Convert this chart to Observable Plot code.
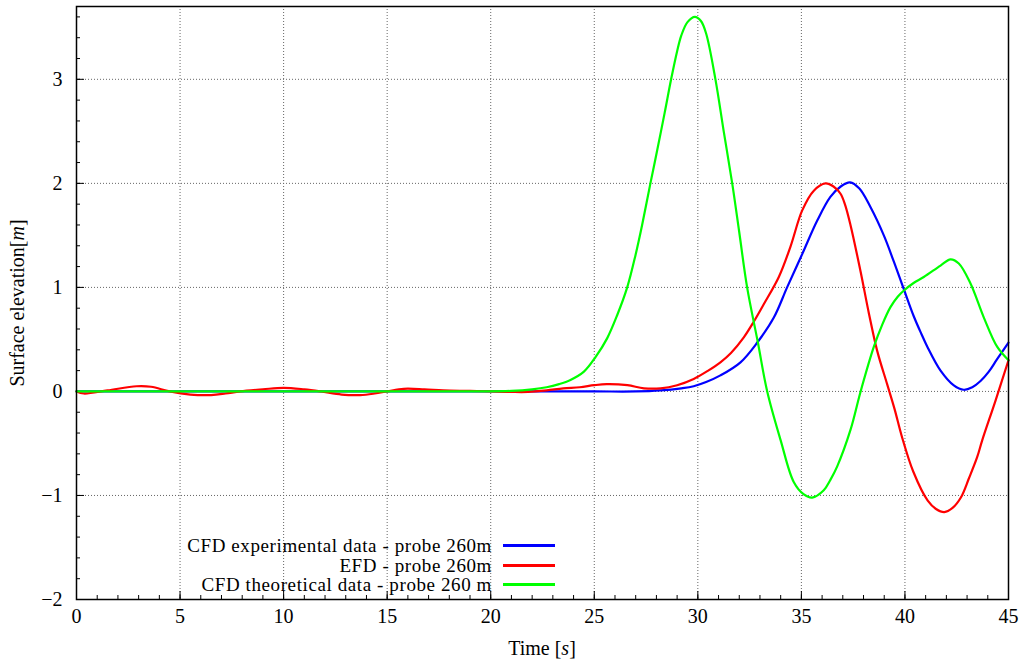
<!DOCTYPE html>
<html><head><meta charset="utf-8">
<script src="https://cdn.jsdelivr.net/npm/d3@7"></script>
<script src="https://cdn.jsdelivr.net/npm/@observablehq/plot@0.6"></script>
<style>
body{margin:0;background:#fff;}
#wrap{position:relative;width:1019px;height:662px;font-family:"Liberation Serif","DejaVu Serif","Times New Roman",serif;color:#000;}
#wrap svg{position:absolute;left:0;top:0;}
#wrap svg text{font-family:"Liberation Serif","DejaVu Serif","Times New Roman",serif;}
.legend{position:absolute;left:0;top:0;font-size:19px;line-height:1;}
.legend .lab{position:absolute;transform:translateY(-50%);text-align:right;white-space:nowrap;letter-spacing:0.6px;}
.legend .sw{position:absolute;height:3px;}
.ylab{position:absolute;left:17px;top:303px;transform:translate(-50%,-50%) rotate(-90deg);font-size:20px;white-space:nowrap;line-height:1;}
.xlab{position:absolute;left:542px;top:648px;transform:translate(-50%,-50%);font-size:20px;white-space:nowrap;line-height:1;}
</style></head><body><div id="wrap"></div>
<script>
// Series names and colours
const names = ["CFD experimental data - probe 260m", "EFD - probe 260m", "CFD theoretical data - probe 260 m"];
const colors = ["#0000ff", "#ff0000", "#00ff00"];

// CFD experimental data (blue)
const tBlue = [0, 5, 10, 15, 20, 25, 27, 28.2, 29.2, 29.8, 30.4, 31.09, 32.06, 32.87, 33.67, 34.31, 35.04, 35.76, 36.4, 36.9, 37.35, 37.8, 38.34, 38.98, 39.46, 39.95, 40.43, 40.8, 41.08, 41.72, 42.36, 42.84, 43.25, 43.65, 44.05, 44.45, 45];
const vBlue = [0, 0, 0, 0, 0, 0, 0, 0.01, 0.03, 0.05, 0.09, 0.154, 0.28, 0.47, 0.71, 1.0, 1.32, 1.64, 1.87, 1.97, 2.01, 1.95, 1.77, 1.5, 1.25, 0.98, 0.72, 0.55, 0.43, 0.2, 0.058, 0.016, 0.04, 0.1, 0.19, 0.31, 0.47];

// EFD (red)
const tRed = [0, 0.35, 1.5, 2.9, 3.6, 4.5, 5.5, 6.5, 7.2, 7.9, 9, 10, 11, 11.8, 12.8, 13.7, 14.4, 15, 15.8, 16.8, 17.7, 19, 20, 21, 21.8, 22.7, 23.5, 24.3, 25.0, 25.6, 26.6, 27.4, 28.2, 29.0, 29.8, 30.5, 31.09, 31.6, 32.22, 32.7, 33.19, 33.91, 34.47, 35.04, 35.6, 36.16, 36.55, 36.89, 37.1, 37.37, 37.85, 38.26, 38.66, 39.14, 39.5, 39.86, 40.4, 41.1, 41.5, 41.9, 42.3, 42.7, 43.1, 43.49, 43.73, 44.37, 45];
const vRed = [0, -0.02, 0.01, 0.05, 0.045, 0.0, -0.03, -0.035, -0.02, 0.0, 0.02, 0.035, 0.02, 0.0, -0.03, -0.035, -0.02, 0.0, 0.025, 0.02, 0.01, 0.005, 0.0, -0.005, -0.005, 0.01, 0.03, 0.04, 0.06, 0.07, 0.06, 0.03, 0.03, 0.06, 0.12, 0.2, 0.28, 0.37, 0.52, 0.67, 0.84, 1.1, 1.39, 1.74, 1.93, 2.0, 1.97, 1.9, 1.8, 1.6, 1.16, 0.75, 0.39, 0.07, -0.17, -0.44, -0.77, -1.05, -1.13, -1.16, -1.12, -1.02, -0.83, -0.63, -0.47, -0.09, 0.3];

// CFD theoretical data (green)
const tGreen = [0, 5, 10, 15, 19.5, 21, 22, 22.7, 23.3, 23.85, 24.5, 25.06, 25.62, 26.1, 26.59, 26.99, 27.31, 27.71, 28.04, 28.4, 28.71, 29.0, 29.2, 29.5, 29.86, 30.15, 30.4, 30.85, 31.25, 31.66, 32.0, 32.38, 32.9, 33.35, 34.0, 34.63, 35.12, 35.52, 36.08, 36.4, 36.73, 37.37, 37.86, 38.5, 38.9, 39.3, 39.65, 39.95, 40.4, 40.91, 41.72, 42.2, 42.6, 43.16, 43.81, 44.45, 45];
const vGreen = [0, 0, 0, 0, 0, 0.005, 0.02, 0.04, 0.07, 0.11, 0.19, 0.33, 0.51, 0.73, 1.0, 1.31, 1.6, 2.0, 2.32, 2.68, 3.0, 3.27, 3.42, 3.55, 3.6, 3.56, 3.44, 3.0, 2.5, 2.0, 1.53, 1.0, 0.47, 0.0, -0.47, -0.87, -0.99, -1.02, -0.95, -0.85, -0.72, -0.37, 0.0, 0.43, 0.64, 0.81, 0.91, 0.97, 1.04, 1.1, 1.21, 1.27, 1.23, 1.04, 0.71, 0.43, 0.3];

// Ticks
const xMajor = [0, 5, 10, 15, 20, 25, 30, 35, 40, 45];
const xMinor = d3.range(0, 46, 1);
const yMajor = [-2, -1, 0, 1, 2, 3];
const yMinor = d3.range(-10, 19).map(i => i / 5);

const seriesT = [tBlue, tRed, tGreen];
const seriesV = [vBlue, vRed, vGreen];
const rows = names.flatMap((name, k) => seriesT[k].map((t, i) => ({t, v: seriesV[k][i], name})));

const W = 1019, H = 662, mL = 76, mR = 11, mT = 6, mB = 63;
const fw = W - mL - mR, fh = H - mT - mB;
const fmt = d => (d < 0 ? "\u2212" + Math.abs(d) : String(d));

const chart = Plot.plot({
  width: W, height: H,
  marginLeft: mL, marginRight: mR, marginTop: mT, marginBottom: mB,
  x: {domain: [0, 45]},
  y: {domain: [-2, 3.7]},
  color: {domain: names, range: colors},
  style: {fontFamily: '"Liberation Serif", "DejaVu Serif", serif', fontSize: "20px", color: "#000", background: "white"},
  marks: [
    Plot.gridX(xMajor, {stroke: "#666", strokeOpacity: 1, strokeDasharray: "1,2", strokeWidth: 1}),
    Plot.gridY(yMajor, {stroke: "#666", strokeOpacity: 1, strokeDasharray: "1,2", strokeWidth: 1}),
    Plot.tickX(xMinor, {x: d => d, insetTop: fh - 4, stroke: "#000"}),
    Plot.tickX(xMajor, {x: d => d, insetTop: fh - 8, stroke: "#000"}),
    Plot.tickY(yMinor, {y: d => d, insetRight: fw - 4, stroke: "#000"}),
    Plot.tickY(yMajor, {y: d => d, insetRight: fw - 8, stroke: "#000"}),
    Plot.axisX(xMajor, {tickSize: 0, tickPadding: 9, label: null, tickFormat: fmt}),
    Plot.axisY(yMajor, {tickSize: 0, tickPadding: 14, label: null, tickFormat: fmt}),
    Plot.line(rows, {x: "t", y: "v", z: "name", stroke: "name", strokeWidth: 2.2, curve: "catmull-rom"}),
    Plot.frame({stroke: "#000", strokeWidth: 1.5})
  ]
});

const wrap = document.getElementById("wrap");
wrap.appendChild(chart);

// Legend (inside plot, bottom-left)
const legend = document.createElement("div");
legend.className = "legend";
legend.style.width = W + "px";
legend.style.height = H + "px";
const rowY = [545, 565, 584];
names.forEach((n, i) => {
  const lab = document.createElement("div");
  lab.className = "lab";
  lab.style.right = (W - 492) + "px";
  lab.style.top = rowY[i] + "px";
  lab.textContent = n;
  legend.appendChild(lab);
  const sw = document.createElement("div");
  sw.className = "sw";
  sw.style.left = "503px";
  sw.style.width = "52px";
  sw.style.top = (rowY[i] - 1) + "px";
  sw.style.background = colors[i];
  legend.appendChild(sw);
});
wrap.appendChild(legend);

const yl = document.createElement("div");
yl.className = "ylab";
yl.innerHTML = 'Surface elevation[<i>m</i>]';
wrap.appendChild(yl);
const xl = document.createElement("div");
xl.className = "xlab";
xl.innerHTML = 'Time [<i>s</i>]';
wrap.appendChild(xl);
</script>
</body></html>
